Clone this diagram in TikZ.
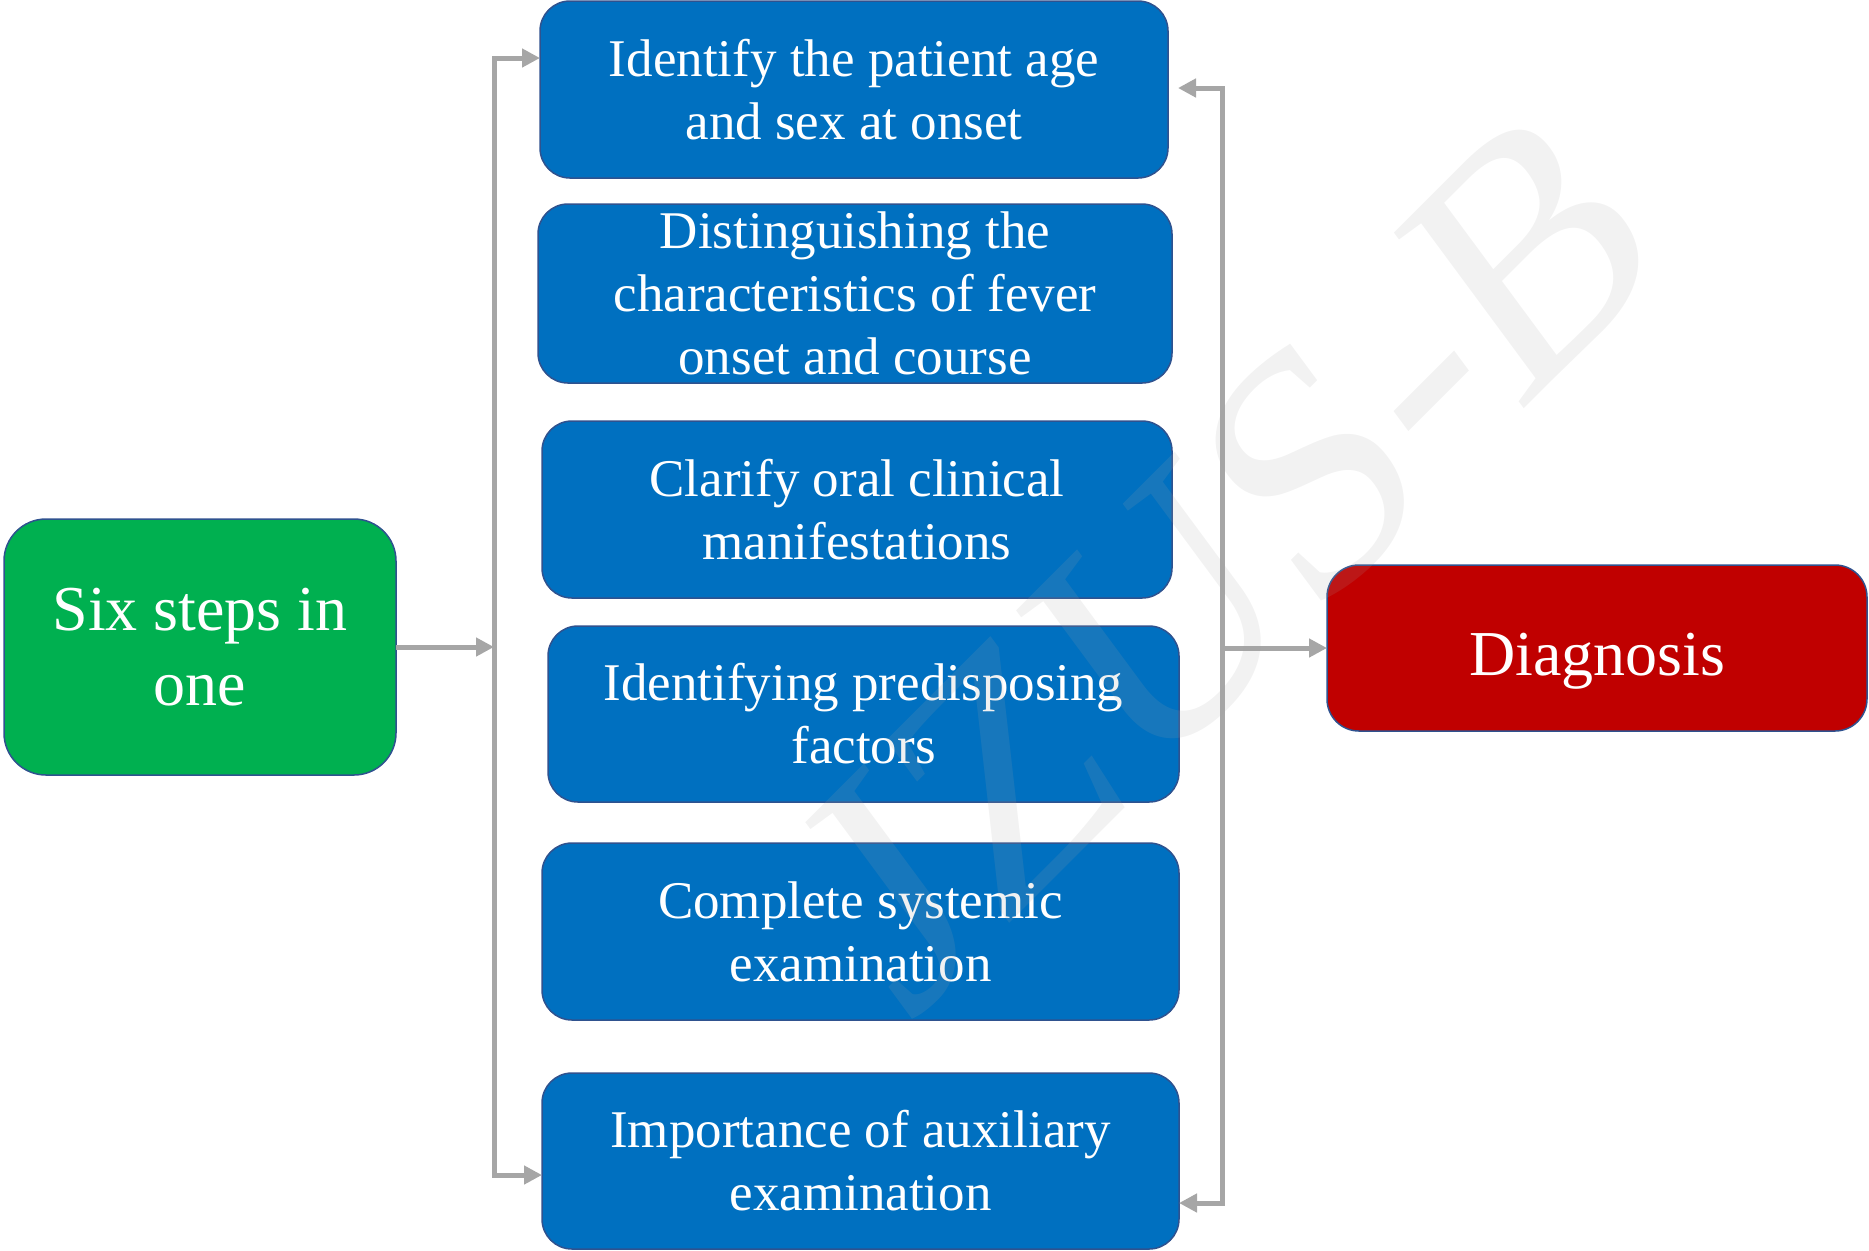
\documentclass[tikz,border=0pt]{standalone}
\usepackage{fontspec}
\setmainfont{Liberation Serif}
\usetikzlibrary{arrows.meta}
\definecolor{stepblue}{HTML}{0070C0}
\definecolor{startgreen}{HTML}{00B050}
\definecolor{diagred}{HTML}{C00000}
\definecolor{edgeblue}{HTML}{2F528F}
\definecolor{conngray}{HTML}{A6A6A6}
\definecolor{wmgray}{HTML}{A5A5A5}
\tikzset{
  box/.style={draw=edgeblue, line width=0.75pt, text=white, align=center, outer sep=0pt, inner sep=0pt},
  stepbox/.style={box, fill=stepblue, rounded corners=15pt, font=\fontsize{26.5}{31.5}\selectfont},
  bigbox/.style={box, font=\fontsize{32}{37.5}\selectfont},
  conn/.style={draw=conngray, line width=2.5pt},
  tip/.style={-{Triangle[length=9pt,width=9pt]}},
  tips/.style={{Triangle[length=9pt,width=9pt]}-{Triangle[length=9pt,width=9pt]}}
}
\begin{document}
\begin{tikzpicture}[x=0.5pt,y=-0.5pt]
\useasboundingbox (0,0) rectangle (1869,1250);

\node[bigbox, fill=startgreen, rounded corners=21pt, minimum width=196pt, minimum height=128pt] (start) at (200,647) {Six steps in\\one};

\node[stepbox, minimum width=314pt, minimum height=88.5pt] (s1) at (854,89.5) {Identify the patient age\\and sex at onset};
\node[stepbox, minimum width=317pt, minimum height=89.5pt] (s2) at (855,293.5) {Distinguishing the\\characteristics of fever\\onset and course};
\node[stepbox, minimum width=315pt, minimum height=88.5pt] (s3) at (857,509.5) {Clarify oral clinical\\manifestations};
\node[stepbox, minimum width=315.5pt, minimum height=88pt] (s4) at (863.5,714) {Identifying predisposing\\factors};
\node[stepbox, minimum width=318.5pt, minimum height=88.5pt] (s5) at (860.5,931.5) {Complete systemic\\examination};
\node[stepbox, minimum width=318.5pt, minimum height=88pt] (s6) at (860.5,1161) {Importance of auxiliary\\examination};

\node[bigbox, fill=diagred, rounded corners=16pt, minimum width=270pt, minimum height=83pt, text height=34pt, text depth=7pt] (diag) at (1597,648) {Diagnosis};

\coordinate (lt) at (494,58);
\coordinate (lb) at (494,1175);
\coordinate (rt) at (1222,88);
\coordinate (rb) at (1222,1203);

\draw[conn, tips] (lt -| s1.west) -- (lt) -- (lb) -- (lb -| s6.west);
\draw[conn, tips, shorten <=5pt] (rt -| s1.east) -- (rt) -- (rb) -- (rb -| s6.east);
\draw[conn, tip] (start.east) -- (start.east -| lt);
\draw[conn, tip] (diag.west -| rt) -- (diag.west);

\node[rotate=45, xslant=0.15, text=wmgray, text opacity=0.145, font=\fontsize{165}{165}\selectfont, inner sep=0pt] (wm) at (1226,555) {JZUS-B};
\end{tikzpicture}
\end{document}
